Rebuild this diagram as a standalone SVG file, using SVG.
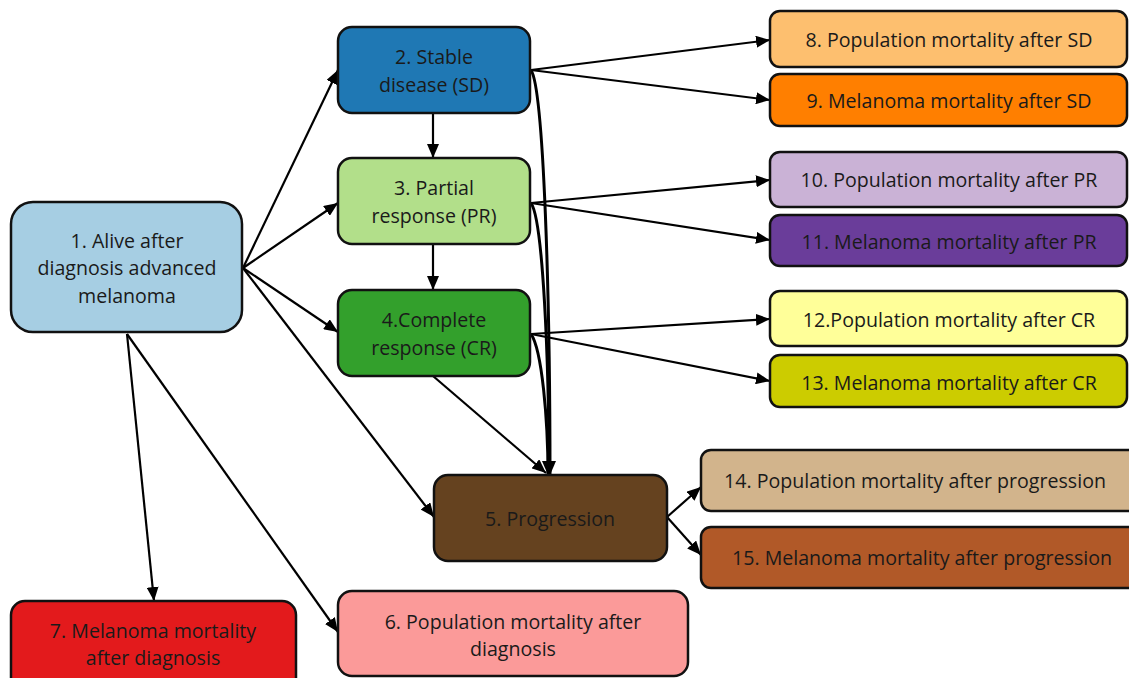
<svg xmlns="http://www.w3.org/2000/svg" width="1129" height="678" viewBox="0 0 1129 678">
<style>
.n{stroke:#111;stroke-width:2.5}
.t{font-family:"Open Sans","Noto Sans","Liberation Sans",sans-serif;font-size:19.6px;fill:#1a1a1a;text-anchor:middle}
.e{fill:none;stroke:#000;stroke-width:2.2}
.ec{fill:none;stroke:#000;stroke-width:3}
</style>
<defs>
<marker id="a" viewBox="0 0 14 12" refX="14" refY="6" markerWidth="14" markerHeight="12" markerUnits="userSpaceOnUse" orient="auto">
<path d="M0,0 L14,6 L0,12 z" fill="#000"/>
</marker>
</defs>
<rect width="1129" height="678" fill="#fff"/>
<g id="connectors">
<path class="e" d="M243,268 L338,70" marker-end="url(#a)"/>
<path class="e" d="M243,268 L338,203" marker-end="url(#a)"/>
<path class="e" d="M243,268 L338,332" marker-end="url(#a)"/>
<path class="e" d="M243,268 L434,517" marker-end="url(#a)"/>
<path class="e" d="M127,334 L154,601" marker-end="url(#a)"/>
<path class="e" d="M127,334 L338,632" marker-end="url(#a)"/>
<path class="e" d="M433,113 L433,158" marker-end="url(#a)"/>
<path class="e" d="M433,244 L433,290" marker-end="url(#a)"/>
<path class="e" d="M531,70 L770,40" marker-end="url(#a)"/>
<path class="e" d="M531,70 L770,100" marker-end="url(#a)"/>
<path class="e" d="M531,203 L770,180" marker-end="url(#a)"/>
<path class="e" d="M531,203 L770,240" marker-end="url(#a)"/>
<path class="e" d="M531,334 L770,319" marker-end="url(#a)"/>
<path class="e" d="M531,334 L770,381" marker-end="url(#a)"/>
<path class="e" d="M667,517 L701,487" marker-end="url(#a)"/>
<path class="e" d="M667,517 L701,555" marker-end="url(#a)"/>
<path class="ec" d="M531,70 C544,90 550,300 550,475" marker-end="url(#a)"/>
<path class="ec" d="M531,203 C543,220 549,360 549,475" marker-end="url(#a)"/>
<path class="ec" d="M531,334 C542,350 548,420 548,475" marker-end="url(#a)"/>
<path class="e" d="M433,376 L546,473" marker-end="url(#a)"/>
</g>
<g id="node1"><rect class="n" x="11" y="202" width="231" height="130" rx="22" fill="#a6cee3"/>
<text class="t" x="127" y="248">1. Alive after</text><text class="t" x="127" y="275">diagnosis advanced</text><text class="t" x="127" y="303">melanoma</text></g>
<g id="node2"><rect class="n" x="338" y="27" width="192" height="86" rx="14" fill="#1f78b4"/>
<text class="t" x="434" y="64">2. Stable</text><text class="t" x="434" y="92">disease (SD)</text></g>
<g id="node3"><rect class="n" x="338" y="158" width="192" height="86" rx="14" fill="#b2df8a"/>
<text class="t" x="434" y="195">3. Partial</text><text class="t" x="434" y="223">response (PR)</text></g>
<g id="node4"><rect class="n" x="338" y="290" width="192" height="86" rx="14" fill="#33a02c"/>
<text class="t" x="434" y="327">4.Complete</text><text class="t" x="434" y="355">response (CR)</text></g>
<g id="node5"><rect class="n" x="434" y="475" width="233" height="86" rx="14" fill="#65421f"/>
<text class="t" x="550" y="526">5. Progression</text></g>
<g id="node6"><rect class="n" x="338" y="591" width="350" height="85" rx="14" fill="#fb9a99"/>
<text class="t" x="513" y="629">6. Population mortality after</text><text class="t" x="513" y="656">diagnosis</text></g>
<g id="node7"><rect class="n" x="11" y="601" width="285" height="95" rx="14" fill="#e31a1c"/>
<text class="t" x="153" y="638">7. Melanoma mortality</text><text class="t" x="153" y="665">after diagnosis</text></g>
<g id="node8"><rect class="n" x="770" y="11" width="357" height="56" rx="10" fill="#fdbf6f"/>
<text class="t" x="949" y="47">8. Population mortality after SD</text></g>
<g id="node9"><rect class="n" x="770" y="74" width="357" height="52" rx="10" fill="#ff7f00"/>
<text class="t" x="949" y="108">9. Melanoma mortality after SD</text></g>
<g id="node10"><rect class="n" x="770" y="152" width="357" height="55" rx="10" fill="#cab2d6"/>
<text class="t" x="949" y="187">10. Population mortality after PR</text></g>
<g id="node11"><rect class="n" x="770" y="215" width="357" height="51" rx="10" fill="#6a3d9a"/>
<text class="t" x="949" y="249">11. Melanoma mortality after PR</text></g>
<g id="node12"><rect class="n" x="770" y="291" width="357" height="55" rx="10" fill="#ffff99"/>
<text class="t" x="949" y="327">12.Population mortality after CR</text></g>
<g id="node13"><rect class="n" x="770" y="355" width="357" height="52" rx="10" fill="#cccc00"/>
<text class="t" x="949" y="390">13. Melanoma mortality after CR</text></g>
<g id="node14"><rect class="n" x="701" y="450" width="440" height="61" rx="10" fill="#d2b48c"/>
<text class="t" x="915" y="488">14. Population mortality after progression</text></g>
<g id="node15"><rect class="n" x="701" y="527" width="440" height="61" rx="10" fill="#b15928"/>
<text class="t" x="922" y="565">15. Melanoma mortality after progression</text></g>
</svg>
